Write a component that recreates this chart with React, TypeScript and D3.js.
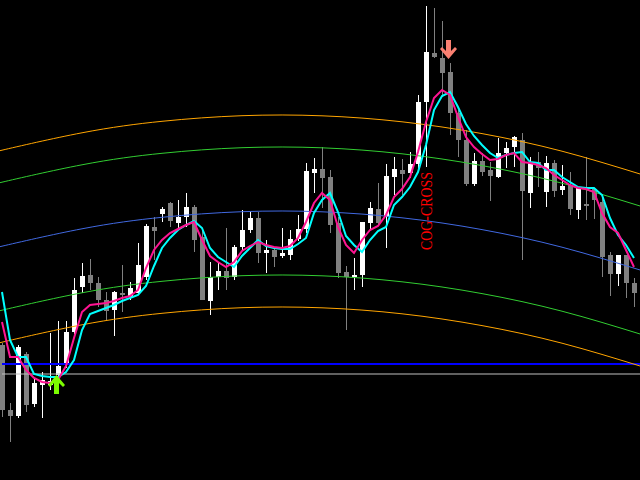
import React from "react";
import * as d3 from "d3";

const WIDTH = 640;
const HEIGHT = 480;

// ---- OHLC candles (one per bar) ----
const opens = [
  1.2655, 1.2590, 1.2584, 1.2646, 1.2596, 1.2615, 1.2615, 1.2625, 1.2635, 1.2668,
  1.2713, 1.2725, 1.2717, 1.2700, 1.2690, 1.2707, 1.2703, 1.2707, 1.2723, 1.2773,
  1.2786, 1.2797, 1.2777, 1.2783, 1.2793, 1.2763, 1.2699, 1.2723, 1.2729, 1.2723,
  1.2753, 1.2770, 1.2782, 1.2747, 1.2750, 1.2744, 1.2745, 1.2761, 1.2771, 1.2827,
  1.2831, 1.2823, 1.2777, 1.2728, 1.2723, 1.2725, 1.2777, 1.2791, 1.2783, 1.2823,
  1.2830, 1.2827, 1.2836, 1.2898, 1.2947, 1.2942, 1.2928, 1.2887, 1.2860, 1.2816,
  1.2839, 1.2830, 1.2823, 1.2847, 1.2853, 1.2860, 1.2807, 1.2838, 1.2808, 1.2837,
  1.2810, 1.2815, 1.2790, 1.2796, 1.2811, 1.2798, 1.2745, 1.2726, 1.2745, 1.2717,
];
const highs = [
  1.2657, 1.2597, 1.2655, 1.2648, 1.2622, 1.2628, 1.2667, 1.2679, 1.2679, 1.2722,
  1.2737, 1.2741, 1.2723, 1.2708, 1.2709, 1.2735, 1.2718, 1.2757, 1.2776, 1.2783,
  1.2793, 1.2798, 1.2800, 1.2807, 1.2795, 1.2770, 1.2738, 1.2737, 1.2772, 1.2755,
  1.2790, 1.2788, 1.2788, 1.2760, 1.2753, 1.2772, 1.2770, 1.2785, 1.2837, 1.2842,
  1.2853, 1.2830, 1.2783, 1.2734, 1.2742, 1.2778, 1.2798, 1.2817, 1.2836, 1.2843,
  1.2841, 1.2848, 1.2905, 1.2994, 1.2992, 1.2979, 1.2937, 1.2890, 1.2870, 1.2847,
  1.2847, 1.2838, 1.2862, 1.2858, 1.2864, 1.2867, 1.2843, 1.2848, 1.2844, 1.2840,
  1.2835, 1.2828, 1.2813, 1.2843, 1.2811, 1.2803, 1.2748, 1.2745, 1.2745, 1.2722,
];
const lows = [
  1.2583, 1.2558, 1.2582, 1.2588, 1.2593, 1.2582, 1.2610, 1.2620, 1.2632, 1.2666,
  1.2707, 1.2710, 1.2693, 1.2680, 1.2664, 1.2688, 1.2700, 1.2705, 1.2720, 1.2740,
  1.2778, 1.2773, 1.2770, 1.2773, 1.2748, 1.2700, 1.2685, 1.2710, 1.2710, 1.2720,
  1.2750, 1.2767, 1.2737, 1.2727, 1.2733, 1.2742, 1.2740, 1.2759, 1.2767, 1.2807,
  1.2792, 1.2767, 1.2722, 1.2670, 1.2710, 1.2713, 1.2770, 1.2774, 1.2752, 1.2805,
  1.2805, 1.2822, 1.2830, 1.2833, 1.2942, 1.2903, 1.2865, 1.2843, 1.2814, 1.2814,
  1.2824, 1.2799, 1.2822, 1.2832, 1.2833, 1.2740, 1.2792, 1.2813, 1.2793, 1.2803,
  1.2805, 1.2785, 1.2781, 1.2780, 1.2781, 1.2723, 1.2704, 1.2714, 1.2702, 1.2693,
];
const closes = [
  1.2590, 1.2584, 1.2653, 1.2595, 1.2617, 1.2620, 1.2619, 1.2634, 1.2668, 1.2710,
  1.2724, 1.2717, 1.2700, 1.2689, 1.2708, 1.2705, 1.2712, 1.2735, 1.2774, 1.2769,
  1.2791, 1.2779, 1.2783, 1.2793, 1.2760, 1.2700, 1.2723, 1.2729, 1.2722, 1.2753,
  1.2770, 1.2782, 1.2747, 1.2750, 1.2743, 1.2747, 1.2761, 1.2771, 1.2829, 1.2831,
  1.2822, 1.2775, 1.2727, 1.2723, 1.2725, 1.2778, 1.2792, 1.2777, 1.2824, 1.2831,
  1.2826, 1.2836, 1.2898, 1.2948, 1.2943, 1.2927, 1.2887, 1.2860, 1.2816, 1.2839,
  1.2828, 1.2824, 1.2847, 1.2852, 1.2863, 1.2809, 1.2837, 1.2832, 1.2837, 1.2809,
  1.2814, 1.2791, 1.2812, 1.2794, 1.2800, 1.2743, 1.2726, 1.2745, 1.2717, 1.2707,
];

// ---- moving averages ----
const fastMA = [
  1.2678, 1.2643, 1.2643, 1.2630, 1.2622, 1.2618, 1.2617, 1.2620, 1.2634, 1.2662,
  1.2688, 1.2695, 1.2696, 1.2697, 1.2699, 1.2702, 1.2704, 1.2710, 1.2732, 1.2750,
  1.2760, 1.2767, 1.2771, 1.2775, 1.2778, 1.2760, 1.2744, 1.2738, 1.2733, 1.2738,
  1.2749, 1.2754, 1.2758, 1.2755, 1.2753, 1.2752, 1.2754, 1.2762, 1.2778, 1.2797,
  1.2807, 1.2800, 1.2773, 1.2755, 1.2747, 1.2760, 1.2770, 1.2774, 1.2785, 1.2803,
  1.2811, 1.2823, 1.2848, 1.2878, 1.2902, 1.2910, 1.2905, 1.2883, 1.2863, 1.2853,
  1.2846, 1.2840, 1.2841, 1.2845, 1.2847, 1.2838, 1.2837, 1.2835, 1.2832, 1.2825,
  1.2820, 1.2815, 1.2812, 1.2811, 1.2808, 1.2787, 1.2773, 1.2767, 1.2750, 1.2733,
];
const slowMA = [
  1.2708, 1.2660, 1.2643, 1.2643, 1.2626, 1.2624, 1.2623, 1.2623, 1.2628, 1.2640,
  1.2670, 1.2686, 1.2689, 1.2692, 1.2695, 1.2699, 1.2702, 1.2705, 1.2714, 1.2734,
  1.2752, 1.2762, 1.2770, 1.2775, 1.2779, 1.2772, 1.2752, 1.2743, 1.2738, 1.2733,
  1.2744, 1.2752, 1.2760, 1.2754, 1.2752, 1.2751, 1.2751, 1.2756, 1.2762, 1.2787,
  1.2800, 1.2807, 1.2788, 1.2764, 1.2755, 1.2748, 1.2760, 1.2769, 1.2773, 1.2795,
  1.2803, 1.2813, 1.2828, 1.2855, 1.2890, 1.2904, 1.2908, 1.2893, 1.2876, 1.2864,
  1.2855, 1.2847, 1.2842, 1.2845, 1.2847, 1.2848, 1.2838, 1.2837, 1.2830, 1.2830,
  1.2823, 1.2818, 1.2813, 1.2812, 1.2812, 1.2805, 1.2782, 1.2765, 1.2755, 1.2742,
];

// ---- center of gravity regression band ----
const cogIndex = [-1, 0, 10, 20, 30, 40, 50, 60, 70, 80];
const cogCenter = [1.27518, 1.27538, 1.27712, 1.27827, 1.27883, 1.27882, 1.27822, 1.27704, 1.27528, 1.27294];
const cogInner = 0.0064;
const cogOuter = 0.0096;

// ---- horizontal levels ----
const levelPrices = [1.2636, 1.2626];

// ---- signals ----
const signalIndex = [7, 56];
const signalPrice = [1.2625, 1.2941];
const signalDir = ["up", "down"];

// ---- label ----
const labelText = "COG-CROSS";
const labelIndex = 53;
const labelPrice = 1.2750;

const BULL = "#ffffff";
const BEAR = "#808080";

export default function App() {
  const n = opens.length;
  const x = d3.scaleLinear().domain([0, n - 1]).range([2, 2 + 8 * (n - 1)]);
  const y = d3.scaleLinear().domain([1.252, 1.3]).range([HEIGHT, 0]);

  const maLine = d3
    .line<number>()
    .x((_, i) => x(i))
    .y((d) => y(d));

  const band = (off: number) =>
    d3
      .line<number>()
      .x((_, j) => x(cogIndex[j]))
      .y((d) => y(d + off))
      .curve(d3.curveNatural)(cogCenter) as string;

  const levelColors = ["#0000ff", "#c0c0c0"];
  const levelWidths = [2, 1];

  const arrowPath = (dir: string) =>
    dir === "up"
      ? "M0,0 L8.5,10 L6.5,12 L2.5,8 L2.5,19 L-2.5,19 L-2.5,8 L-6.5,12 L-8.5,10 Z"
      : "M0,0 L8.5,-10 L6.5,-12 L2.5,-8 L2.5,-19 L-2.5,-19 L-2.5,-8 L-6.5,-12 L-8.5,-10 Z";

  const lx = x(labelIndex) + 6;
  const ly = y(labelPrice);

  return (
    <svg
      width={WIDTH}
      height={HEIGHT}
      style={{ position: "absolute", left: 0, top: 0, display: "block", background: "#000" }}
    >
      <rect x={0} y={0} width={WIDTH} height={HEIGHT} fill="#000" />
      {/* candles */}
      <g shapeRendering="crispEdges">
        {d3.range(n).map((i) => {
          const c = Math.round(x(i));
          const o = opens[i];
          const cl = closes[i];
          const bull = cl >= o;
          const col = bull ? BULL : BEAR;
          const top = Math.round(y(Math.max(o, cl)));
          const bot = Math.round(y(Math.min(o, cl)));
          return (
            <g key={i}>
              <rect
                x={c}
                y={Math.round(y(highs[i]))}
                width={1}
                height={Math.max(1, Math.round(y(lows[i])) - Math.round(y(highs[i])))}
                fill={col}
              />
              <rect x={c - 2} y={top} width={5} height={Math.max(1, bot - top)} fill={col} />
            </g>
          );
        })}
      </g>
      {/* levels */}
      {levelPrices.map((p, i) => (
        <line
          key={"lv" + i}
          x1={x(0)}
          x2={WIDTH}
          y1={y(p)}
          y2={y(p)}
          stroke={levelColors[i]}
          strokeWidth={levelWidths[i]}
        />
      ))}
      {/* COG bands */}
      <g fill="none" strokeWidth={1}>
        <path d={band(cogOuter)} stroke="#ffa500" />
        <path d={band(cogInner)} stroke="#32cd32" />
        <path d={band(0)} stroke="#4169e1" />
        <path d={band(-cogInner)} stroke="#32cd32" />
        <path d={band(-cogOuter)} stroke="#ffa500" />
      </g>
      {/* moving averages */}
      <path d={maLine(slowMA) as string} fill="none" stroke="#00ffff" strokeWidth={2} />
      <path d={maLine(fastMA) as string} fill="none" stroke="#ff1493" strokeWidth={2} />
      {/* signals */}
      {signalIndex.map((si, i) => (
        <path
          key={"sg" + i}
          d={arrowPath(signalDir[i])}
          transform={`translate(${x(si) - 1.5},${y(signalPrice[i])})`}
          fill={signalDir[i] === "up" ? "#7cfc00" : "#fa8072"}
        />
      ))}
      {/* label */}
      <text
        x={lx}
        y={ly}
        transform={`rotate(-90 ${lx} ${ly})`}
        fill="#ff0000"
        fontFamily="'Liberation Serif', 'Times New Roman', serif"
        fontSize={17}
        textLength={78}
        lengthAdjust="spacingAndGlyphs"
      >
        {labelText}
      </text>
    </svg>
  );
}
